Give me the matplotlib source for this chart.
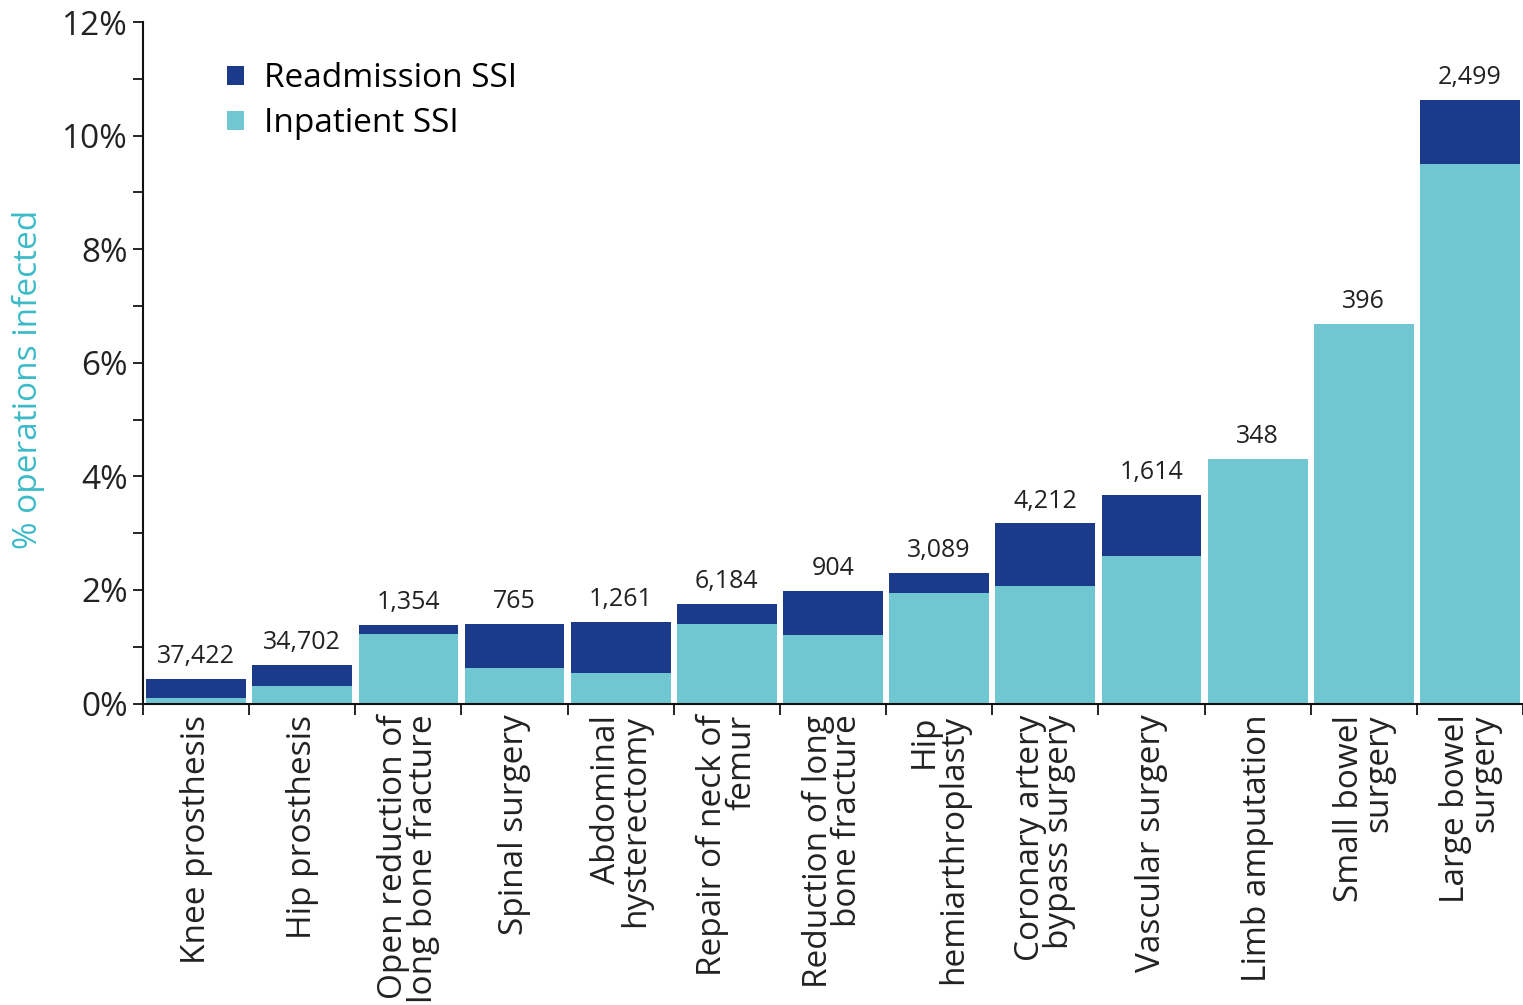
import numpy as np
import matplotlib
matplotlib.use("Agg")
import matplotlib.pyplot as plt
from matplotlib.ticker import MultipleLocator, FixedLocator, NullFormatter

plt.rcParams['font.family'] = ['Open Sans', 'DejaVu Sans']

categories = ["Knee prosthesis", "Hip prosthesis", "Open reduction of\nlong bone fracture",
              "Spinal surgery", "Abdominal\nhysterectomy", "Repair of neck of\nfemur",
              "Reduction of long\nbone fracture", "Hip\nhemiarthroplasty",
              "Coronary artery\nbypass surgery", "Vascular surgery", "Limb amputation",
              "Small bowel\nsurgery", "Large bowel\nsurgery"]
inpatient = [0.09, 0.31, 1.22, 0.63, 0.54, 1.40, 1.21, 1.95, 2.07, 2.60, 4.31, 6.69, 9.50]
total = [0.43, 0.68, 1.38, 1.40, 1.44, 1.76, 1.98, 2.30, 3.17, 3.68, 4.31, 6.69, 10.63]
n_ops = ["37,422", "34,702", "1,354", "765", "1,261", "6,184", "904", "3,089",
         "4,212", "1,614", "348", "396", "2,499"]

readmission = np.array(total) - np.array(inpatient)
x = np.arange(len(categories))

dark = "#1b3a8a"
teal = "#71c7d1"

fig = plt.figure(figsize=(15.23, 10.05), dpi=100)
ax = fig.add_axes([0.0939, 0.30, 0.9061, 0.678])

ax.bar(x, inpatient, width=0.94, color=teal, label="Inpatient SSI")
ax.bar(x, readmission, width=0.94, bottom=inpatient, color=dark, label="Readmission SSI")

for xi, t, lab in zip(x, total, n_ops):
    ax.annotate(lab, (xi, t), xytext=(0, 7), textcoords="offset points",
                ha="center", va="bottom", fontsize=18, color="#222222")

ax.set_xlim(-0.5, len(categories) - 0.5)
ax.set_ylim(0, 12)
ax.yaxis.set_minor_locator(MultipleLocator(1))
ax.set_yticks(np.arange(0, 13, 2))
ax.set_yticklabels([f"{v}%" for v in range(0, 13, 2)], fontsize=24, color="#222222")
ax.tick_params(axis="y", which="both", length=7, width=1.2, direction="out", pad=4)

# category labels at centres, tick marks at boundaries
ax.set_xticks(x)
ax.set_xticklabels(categories, rotation=90, fontsize=24, ha="center", va="top",
                   multialignment="right", linespacing=0.85, color="#222222")
ax.tick_params(axis="x", which="major", length=0, pad=8)
ax.xaxis.set_minor_locator(FixedLocator(np.arange(-0.5, len(categories), 1)))
ax.xaxis.set_minor_formatter(NullFormatter())
ax.tick_params(axis="x", which="minor", length=8, width=1.2, direction="out")

for s in ["top", "right"]:
    ax.spines[s].set_visible(False)
for s in ["left", "bottom"]:
    ax.spines[s].set_linewidth(1.5)
    ax.spines[s].set_color("#111111")

ax.set_ylabel("% operations infected", fontsize=24, color="#3cbac8")
ax.yaxis.set_label_coords(-0.071, 0.475)

handles, labels = ax.get_legend_handles_labels()
ax.legend(handles[::-1], labels[::-1], loc="upper left", bbox_to_anchor=(0.044, 0.975),
          frameon=False, fontsize=24, handlelength=0.5, handleheight=0.5,
          handletextpad=0.6, labelspacing=0.35, borderaxespad=0.3)

fig.savefig("out.png", dpi=100)
